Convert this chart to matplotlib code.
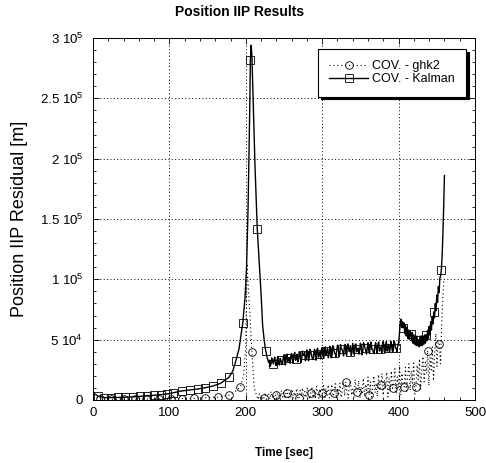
import numpy as np
import matplotlib
matplotlib.use("Agg")
import matplotlib.pyplot as plt
from matplotlib.ticker import MultipleLocator, FuncFormatter
from matplotlib.lines import Line2D

plt.rcParams['font.family'] = ['Liberation Sans', 'DejaVu Sans']
plt.rcParams['mathtext.default'] = 'regular'

# ---------------- data (values in units of 1000 m) ----------------
# Kalman covariance residual: smooth part up to the peak and decay
kal_t_smooth = [0, 7, 15, 24, 33, 42, 52, 61, 71, 80, 89, 97, 105, 116, 127, 137, 147,
                157, 167, 178, 183, 187, 191, 196, 199, 201, 203, 205, 206, 207, 208,
                210, 212, 215, 218, 220, 222, 224, 226, 228]
kal_v_smooth = [6.0, 3.0, 2.0, 2.0, 2.1, 2.3, 2.6, 3.0, 3.4, 3.9, 4.5, 5.0, 6.0, 7.5, 8.3,
                9.1, 10.2, 11.6, 13.8, 18.8, 24, 32.6, 42, 63.6, 85, 110, 160, 235, 281.8,
                294, 285, 240, 195, 141.7, 110, 88, 62, 50, 41, 35]
# noisy plateau, even seconds 230..400
kal_t_band_even = list(range(230, 401, 2))
kal_v_band_even = [31, 28, 35, 30, 35.5, 28.5, 36, 29, 33, 29.5,
                   37.5, 29, 38, 35, 30.5, 38.5, 31, 39.5, 34, 31.5,
                   40, 31, 40.5, 37, 32.5, 41.5, 32.5, 42, 37, 33.5,
                   42, 33, 43, 38, 34, 43.5, 34.5, 44, 40.5, 35,
                   44.5, 35, 45, 39, 36, 45.5, 36, 46, 42, 36.5,
                   46, 37, 46.5, 40, 37, 47, 37.5, 46.5, 42, 38,
                   47, 37.5, 47.5, 43, 38, 47.5, 38.5, 48, 42, 38.5,
                   47.5, 39, 48, 42, 39, 48.5, 39, 48.5, 43, 39.5,
                   48.5, 39.5, 49, 43, 40, 47]
# noisy plateau, odd seconds 231..399
kal_t_band_odd = list(range(231, 400, 2))
kal_v_band_odd = [33, 30, 32.5, 34, 29, 33.5, 31, 34.5, 30, 35,
                  31, 36, 32, 35, 37, 32.5, 36.5, 33, 38, 34,
                  38.5, 33, 37, 39.5, 34, 38, 35, 40.5, 34.5, 39,
                  36, 41, 35.5, 40, 42, 36.5, 40.5, 37, 42.5, 38,
                  42, 37.5, 43.5, 38.5, 41, 44, 38, 42.5, 39.5, 44.5,
                  39, 43.5, 40.5, 45, 39.5, 42.5, 45.5, 40, 43, 41,
                  44.5, 39.5, 46, 41, 43.5, 40.5, 46, 42, 39.5, 45,
                  41.5, 46.5, 40.5, 44, 47, 41, 44.5, 40.5, 46, 42.5,
                  45, 41, 47, 42.5, 46]
# second bump and final divergence, t = 401..460 every 1 s
kal_t_end = list(range(401, 461))
kal_v_end = [54, 63, 67, 60, 65, 60, 64, 55, 62, 53,
             60, 51, 58, 50, 57, 55, 49, 56, 47, 54,
             46, 53, 45, 53, 45, 50, 44, 53, 45, 53,
             45, 53, 46, 54, 47, 54, 49, 58, 51, 61,
             54, 65, 58, 69, 63, 73, 68, 80, 74, 87,
             81, 94, 89, 101, 103, 108, 120, 138, 160, 186]
kal_mark_t = [7, 15, 24, 33, 42, 52, 61, 71, 80, 89, 97, 105, 116, 127, 137, 147, 157, 167,
              178, 187, 196, 206, 215, 226, 236, 246, 256, 266, 276, 286, 296, 306, 316, 326,
              336, 346, 356, 366, 376, 386, 396, 406, 416, 426, 436, 446, 456]

# ghk2 covariance residual
ghk_t_smooth = [0, 9, 24, 40, 55, 70, 86, 102, 117, 132, 147, 163, 178, 185, 193, 197, 200,
                201.5, 205, 208, 211]
ghk_v_smooth = [3.0, 0.8, 0.6, 0.6, 0.7, 0.8, 0.9, 0.9, 1.2, 1.4, 1.9, 2.3, 4.1, 6.5, 11,
                20, 45, 113, 75, 40, 10]
ghk_noise_start, ghk_noise_step = 214.62, 1.53
ghk_v_noise = [3, 0.5, 5, 1, 4, 0.3, 2, 6, 0.5, 3,
               5.5, 0.8, 7, 2, 4.5, 0.4, 4.1, 7.5, 1, 5,
               0.6, 8, 2.5, 6, 1, 8.5, 5.5, 0.5, 7, 2,
               9, 1.2, 6.5, 3, 9.5, 0.6, 1.4, 8, 3.5, 10,
               1, 7, 2, 10.5, 4, 0.7, 5.5, 11, 2, 8,
               0.9, 11.5, 4.5, 1.5, 9, 3, 5.5, 12, 1, 9.5,
               4, 12.5, 1.8, 7, 13, 3, 5.5, 13.5, 1.2, 10,
               5, 14, 2, 8, 15, 3.5, 15, 6, 1.5, 12,
               16, 4, 9, 2, 17, 6.5, 7, 16, 1.5, 11,
               5, 18, 3, 13, 7, 19, 4, 15, 2.5, 10,
               20, 6, 14, 3, 21, 8, 12.4, 22, 4, 16,
               9, 23, 2.5, 18, 7, 24, 9.7, 14, 26, 5,
               19, 10, 28, 4, 22, 12, 11, 27, 6, 20,
               30, 8, 24, 14, 32, 5, 11, 29, 17, 34,
               9, 26, 36, 15, 31, 22, 41, 12, 35, 25,
               44, 16, 38, 55, 28, 48, 46, 30, 62, 85,
               100]
ghk_mark_t = [9, 24, 40, 55, 70, 86, 102, 117, 132, 147, 163, 178, 193, 208]
ghk_noise_mark_every = 10
ghk_noise_mark_first = 6

title = "Position IIP Results"
xlabel = "Time [sec]"
ylabel = "Position IIP Residual [m]"
legend_labels = ["COV. - ghk2", "COV. - Kalman"]

# ---------------- assemble ----------------
band_t = np.array(kal_t_band_even + kal_t_band_odd, dtype=float)
band_v = np.array(kal_v_band_even + kal_v_band_odd)
order = np.argsort(band_t)
kal_t = np.concatenate([np.array(kal_t_smooth, float), band_t[order],
                        np.array(kal_t_end, float)])
kal_v = np.concatenate([np.array(kal_v_smooth), band_v[order], np.array(kal_v_end)]) * 1000.0
kal_marks = list(np.nonzero(np.isin(kal_t, kal_mark_t))[0])

ghk_t_noise = ghk_noise_start + ghk_noise_step * np.arange(len(ghk_v_noise))
ghk_t = np.concatenate([np.array(ghk_t_smooth, dtype=float), ghk_t_noise])
ghk_v = np.array(ghk_v_smooth + ghk_v_noise) * 1000.0
ghk_marks = list(np.nonzero(np.isin(np.array(ghk_t_smooth), ghk_mark_t))[0])
ghk_marks += [len(ghk_t_smooth) + i for i in range(ghk_noise_mark_first, len(ghk_v_noise),
                                                    ghk_noise_mark_every)]

fig = plt.figure(figsize=(4.86, 4.63), dpi=100)
ax = fig.add_axes([93 / 486, 63 / 463, 382 / 486, 362 / 463])

dot = (0, (1, 2.5))
ax.plot(ghk_t, ghk_v, color='k', lw=0.8, ls=dot, marker='o', ms=5.5,
        mfc='none', mec='k', mew=0.6, markevery=ghk_marks, zorder=3)
ax.plot(kal_t, kal_v, color='k', lw=1.0, ls='-', marker='s', ms=5.5,
        mfc='none', mec='k', mew=0.6, markevery=kal_marks, zorder=4)

ax.set_xlim(0, 500)
ax.set_ylim(0, 3e5)
ax.xaxis.set_major_locator(MultipleLocator(100))
ax.xaxis.set_minor_locator(MultipleLocator(20))
ax.yaxis.set_major_locator(MultipleLocator(5e4))
ax.yaxis.set_minor_locator(MultipleLocator(1e4))


def fmt(v, pos):
    if v == 0:
        return "0"
    e = 5 if v >= 1e5 else 4
    return "%g 10$^{%d}$" % (v / 10 ** e, e)


ax.yaxis.set_major_formatter(FuncFormatter(fmt))
ax.tick_params(which='both', direction='in', top=True, right=True, labelsize=9.5,
               width=0.6, color='k')
ax.tick_params(which='major', length=4)
ax.tick_params(which='minor', length=2)
ax.tick_params(axis='x', pad=5)
ax.tick_params(axis='y', pad=7)
ax.grid(True, which='major', color='k', ls=dot, lw=0.7)
for s in ax.spines.values():
    s.set_linewidth(0.7)

fig.text(240 / 486, 1 - 12 / 463, title, fontsize=10, fontweight='bold',
         ha='center', va='center')
ax.set_xlabel(xlabel, fontsize=8.5, fontweight='bold', labelpad=20)
ax.set_ylabel(ylabel, fontsize=13, labelpad=8)

handles = [
    Line2D([], [], color='k', lw=0.8, ls=dot, marker='o', ms=5.5, mfc='none', mew=0.6),
    Line2D([], [], color='k', lw=1.0, ls='-', marker='s', ms=5.5, mfc='none', mew=0.6),
]
leg = ax.legend(handles, legend_labels, loc='upper right', bbox_to_anchor=(0.976, 0.97),
                fontsize=9, frameon=True, fancybox=False, framealpha=1, edgecolor='k',
                shadow={'color': 'k', 'alpha': 1}, borderpad=0.9, handlelength=3.1,
                handletextpad=0.3, labelspacing=0.1, borderaxespad=0)
leg.get_frame().set_linewidth(0.8)
leg.set_zorder(10)

fig.savefig("out.png", dpi=100)
